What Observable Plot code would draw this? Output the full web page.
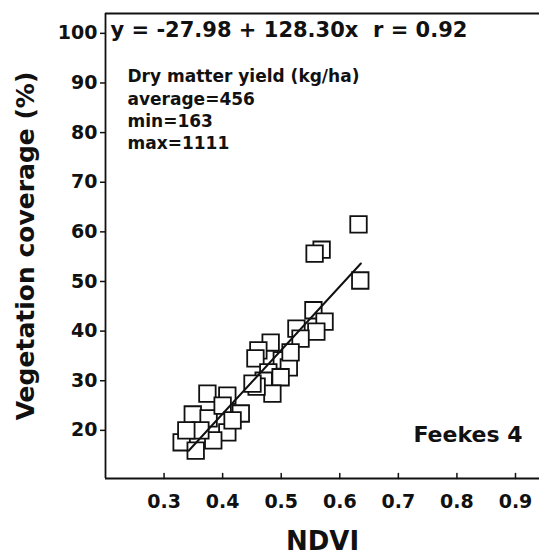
<!DOCTYPE html>
<html><head><meta charset="utf-8">
<script src="https://cdn.jsdelivr.net/npm/d3@7"></script>
<script src="https://cdn.jsdelivr.net/npm/@observablehq/plot@0.6"></script>
<style>body{margin:0;background:#fff} svg{display:block}</style>
</head><body><div id="chart"></div>
<script>
// NDVI (x) and vegetation coverage % (y)
const ndvi = [0.632,0.569,0.557,0.635,0.555,0.574,0.560,0.526,0.533,0.482,0.461,0.456,0.501,0.513,0.478,0.470,0.499,0.485,0.458,0.374,0.408,0.349,0.376,0.431,0.408,0.330,0.354,0.384,0.400,0.362,0.417,0.338,0.451,0.516];
const coverage = [61.5,56.4,55.6,50.2,44.2,41.9,39.9,40.5,38.5,37.7,36.1,34.5,34.1,32.7,31.7,30.0,30.7,27.4,28.8,27.4,27.0,23.2,22.4,23.4,19.6,17.6,15.9,18.0,25.0,20.0,22.0,20.0,29.4,35.7];
const xTicks = [0.3,0.4,0.5,0.6,0.7,0.8,0.9];
const yTicks = [20,30,40,50,60,70,80,90,100];
const intercept = -27.98;
const slope = 128.30;
const fitRange = [0.342, 0.636];
const xDomain = [0.2, 0.941];
const yDomain = [10.3, 104];
const equationText = "y = -27.98 + 128.30x\u00a0\u00a0r = 0.92";
const noteLines = ["Dry matter yield (kg/ha)", "average=456", "min=163", "max=1111"];
const stageLabel = "Feekes 4";
const xLabel = "NDVI";
const yLabel = "Vegetation coverage (%)";

const points = ndvi.map((x, i) => ({x, y: coverage[i]}));
const fitLine = fitRange.map(x => ({x, y: intercept + slope * x}));
const ink = "#111";
const tickShape = {draw(ctx, l) { ctx.moveTo(0, 0); ctx.lineTo(0, -l); }};

const chart = Plot.plot({
  width: 539, height: 556,
  marginLeft: 105, marginRight: 0, marginTop: 13, marginBottom: 78,
  style: {fontFamily: "'DejaVu Sans', sans-serif", fontWeight: "bold", color: ink, background: "#fff"},
  x: {domain: xDomain},
  y: {domain: yDomain},
  marks: [
    Plot.axisY(yTicks, {tickSize: 5, tickPadding: 3, fontSize: 19, label: null, tickFormat: d => String(d), stroke: ink, strokeWidth: 1.5}),
    Plot.axisX(xTicks, {tickSize: 0, tickPadding: 16, fontSize: 19, label: null, tickFormat: d => d.toFixed(1)}),
    Plot.vector(xTicks, {x: d => d, y: yDomain[0], length: 5, rotate: 0, anchor: "start", shape: tickShape, stroke: ink, strokeWidth: 1.5}),
    Plot.dot(points, {x: "x", y: "y", symbol: "square", r: 9.3, fill: "white", stroke: ink, strokeWidth: 1.8}),
    Plot.line(fitLine, {x: "x", y: "y", stroke: ink, strokeWidth: 2}),
    Plot.ruleX([xDomain[0]], {stroke: ink, strokeWidth: 1.8}),
    Plot.ruleY([yDomain[0]], {stroke: ink, strokeWidth: 1.8}),
    Plot.ruleY([yDomain[1]], {stroke: ink, strokeWidth: 1.8}),
    Plot.text([equationText], {text: d => d, frameAnchor: "top-left", dx: 5, dy: 9, lineAnchor: "top", textAnchor: "start", fontSize: 21, fill: ink}),
    Plot.text([noteLines.join("\n")], {text: d => d, frameAnchor: "top-left", dx: 22, dy: 53, lineAnchor: "top", textAnchor: "start", fontSize: 17, lineHeight: 1.31, fill: ink}),
    Plot.text([stageLabel], {text: d => d, frameAnchor: "bottom-right", dx: -17, dy: -37, textAnchor: "end", fontSize: 22, fill: ink}),
    Plot.text([xLabel], {text: d => d, frameAnchor: "bottom", dy: 53, lineAnchor: "top", textAnchor: "middle", fontSize: 26, fill: ink}),
    Plot.text([yLabel], {text: d => d, frameAnchor: "left", dx: -80, rotate: -90, textAnchor: "middle", lineAnchor: "middle", fontSize: 25, fill: ink})
  ]
});
document.getElementById("chart").appendChild(chart);
</script>
</body></html>
